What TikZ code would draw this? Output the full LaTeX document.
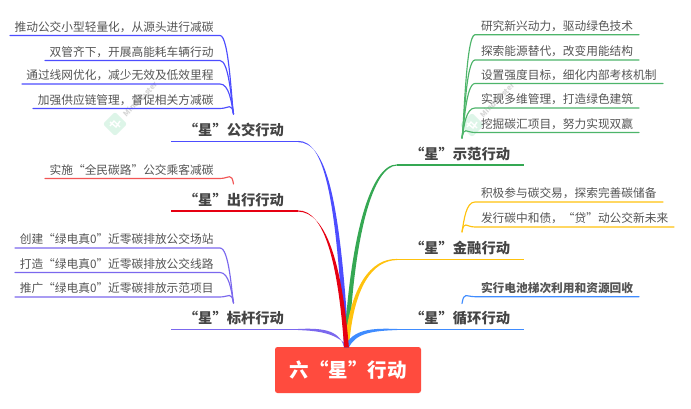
\documentclass[tikz,border=0pt]{standalone}
\usepackage{fontspec}
\setmainfont{Noto Sans CJK SC}
\usetikzlibrary{calc}
\definecolor{cblue}{HTML}{4D4DFF}
\definecolor{cred}{HTML}{E60012}
\definecolor{clred}{HTML}{F25555}
\definecolor{cpurple}{HTML}{7B68EE}
\definecolor{cgreen}{HTML}{35A853}
\definecolor{clgreen}{HTML}{4DB56A}
\definecolor{cyellow}{HTML}{FFC20E}
\definecolor{cazure}{HTML}{3F8CFF}
\definecolor{ctext}{HTML}{555555}
\definecolor{cdark}{HTML}{444444}
\definecolor{croot}{HTML}{FF4B3E}
\definecolor{cwm}{HTML}{DDF5E8}
\tikzset{
  x=1pt,y=-1pt,
  leaf/.style={inner sep=0pt,outer sep=0pt,minimum height=17pt,font=\fontsize{11.7}{13}\selectfont,text=ctext},
  mainn/.style={inner sep=0pt,outer sep=0pt,minimum height=23pt,minimum width=127pt,font=\fontsize{14.3}{16}\selectfont\bfseries,text=cdark},
  conn/.style={line width=1.15pt,line cap=round},
}
\newcommand{\tap}[7]{% colour, start, c1, c2, end, offset c1, offset c2
  \fill[#1] ($(#2)-(0,0.55)$) .. controls ($(#3)-(#6)$) and ($(#4)-(#7)$) .. ($(#5)+(-2.4,0)$) -- ($(#5)+(2.4,0)$) .. controls ($(#4)+(#7)$) and ($(#3)+(#6)$) .. ($(#2)+(0,0.55)$) -- cycle;}
\begin{document}
\begin{tikzpicture}
\useasboundingbox (0,0) rectangle (691,409);
\fill[white] (0,0) rectangle (691,409);
% watermarks
\foreach \wx/\wy/\wn in {115/124/a,472/125/b}{
  \node[fill=cwm,rotate=45,minimum size=17pt,inner sep=0pt,rounded corners=2pt] (wm\wn) at (\wx,\wy) {};
  \draw[white,line width=1.4pt] (\wx-5,\wy-2) -- (\wx+1,\wy+3) -- (\wx+5,\wy-3) (\wx-5,\wy+2) -- (\wx-1,\wy-3) -- (\wx+5,\wy+3);
  \node[rotate=45,text=black!16,font=\fontsize{7.5}{8}\selectfont\bfseries,anchor=west,inner sep=0pt] (wt\wn) at (\wx+9,\wy-9) {MindMaster};
}
% root
\node[fill=croot,rounded corners=2.5pt,minimum width=146pt,minimum height=46pt,inner sep=0pt,text=white,font=\fontsize{19.5}{21}\selectfont\bfseries] (root) at (348,370) {六“星”行动};
\coordinate (rb) at (346.5,347.5);
% main branches (left)
\node[mainn,text width=127pt,align=right,anchor=south east] (m1) at (298,141.5) {“星”公交行动\hspace*{14pt}};
\node[mainn,text width=127pt,align=right,anchor=south east] (m2) at (298,211) {“星”出行行动\hspace*{14pt}};
\node[mainn,text width=127pt,align=right,anchor=south east] (m3) at (298,329.5) {“星”标杆行动\hspace*{14pt}};
% main branches (right)
\node[mainn,text width=127pt,align=left,anchor=south west] (m4) at (397,165) {\hspace*{13pt}“星”示范行动};
\node[mainn,text width=127pt,align=left,anchor=south west] (m5) at (397,259.5) {\hspace*{13pt}“星”金融行动};
\node[mainn,text width=127pt,align=left,anchor=south west] (m6) at (397,329.5) {\hspace*{13pt}“星”循环行动};
\foreach \m/\c in {m1/cblue,m2/cred,m3/cpurple,m4/cgreen,m5/cyellow,m6/cazure}
  \draw[\c,line width=1.1pt] (\m.south west) -- (\m.south east);
\tap{cblue}{m1.south east}{325,141.5}{338,195}{rb}{0.9,1}{1.9,0.4}
\tap{cgreen}{m4.south west}{372,165}{352,235}{rb}{0.9,1}{1.9,0.4}
\tap{cyellow}{m5.south west}{372,259.5}{352,285}{rb}{0.9,1}{1.7,0.4}
\tap{cpurple}{m3.south east}{320,329.5}{338,331}{rb}{0,1.4}{-1.6,2.2}
\tap{cazure}{m6.south west}{372,329.5}{354,331}{rb}{0,1.4}{1.6,2.2}
\tap{cred}{m2.south east}{325,211}{340,262}{rb}{0.9,1}{1.9,0.4}
% hubs
\coordinate (h1) at (233.5,114);
\coordinate (h2) at (233.5,184);
\coordinate (h3) at (233.5,303);
\coordinate (h4) at (462,138);
\coordinate (h5) at (462,232);
\coordinate (h6) at (462,303.5);
% leaves
\newcommand{\lleaf}[7]{% name, x-left, x-right, y, colour, hub, text
  \node[leaf,anchor=south west,minimum width=#3pt-#2pt] (#1) at (#2,#4) {\makebox[\dimexpr#3pt-#2pt\relax][r]{#7\hspace*{6.5pt}}};
  \draw[conn,#5] (#1.south west) -- (#1.south east) .. controls ($(#1.south east)+(9,0)$) and ($(#6)+(-2,-12)$) .. (#6);}
\newcommand{\rleaf}[7]{%
  \node[leaf,anchor=south west,minimum width=#3pt-#2pt] (#1) at (#2,#4) {\makebox[\dimexpr#3pt-#2pt\relax][l]{\hspace*{6pt}#7}};
  \draw[conn,#5] (#1.south east) -- (#1.south west) .. controls ($(#1.south west)+(-9,0)$) and ($(#6)+(2,-12)$) .. (#6);}
\lleaf{a1}{10}{220}{35.5}{cblue}{h1}{推动公交小型轻量化，从源头进行减碳}
\lleaf{a2}{45}{220}{60.5}{cblue}{h1}{双管齐下，开展高能耗车辆行动}
\lleaf{a3}{22}{220}{84}{cblue}{h1}{通过线网优化，减少无效及低效里程}
\lleaf{a4}{33}{220}{108.5}{cblue}{h1}{加强供应链管理，督促相关方减碳}
\lleaf{b1}{45}{220}{178.5}{clred}{h2}{实施“全民碳路”公交乘客减碳}
\lleaf{c1}{15}{220}{248}{cpurple}{h3}{创建“绿电真0”近零碳排放公交场站}
\lleaf{c2}{15}{220}{272.5}{cpurple}{h3}{打造“绿电真0”近零碳排放公交线路}
\lleaf{c3}{15}{220}{297}{cpurple}{h3}{推广“绿电真0”近零碳排放示范项目}
\rleaf{d1}{475}{639}{34.7}{clgreen}{h4}{研究新兴动力，驱动绿色技术}
\rleaf{d2}{475}{639}{60}{clgreen}{h4}{探索能源替代，改变用能结构}
\rleaf{d3}{475}{663}{83.5}{clgreen}{h4}{设置强度目标，细化内部考核机制}
\rleaf{d4}{475}{639}{108}{clgreen}{h4}{实现多维管理，打造绿色建筑}
\rleaf{d5}{475}{639}{132.5}{clgreen}{h4}{挖掘碳汇项目，努力实现双赢}
\rleaf{e1}{475}{663}{202}{cyellow}{h5}{积极参与碳交易，探索完善碳储备}
\rleaf{e2}{475}{674}{227}{cyellow}{h5}{发行碳中和债，“贷”动公交新未来}
\rleaf{f1}{475}{639}{296.7}{cazure}{h6}{\bfseries 实行电池梯次利用和资源回收}
\end{tikzpicture}
\end{document}
